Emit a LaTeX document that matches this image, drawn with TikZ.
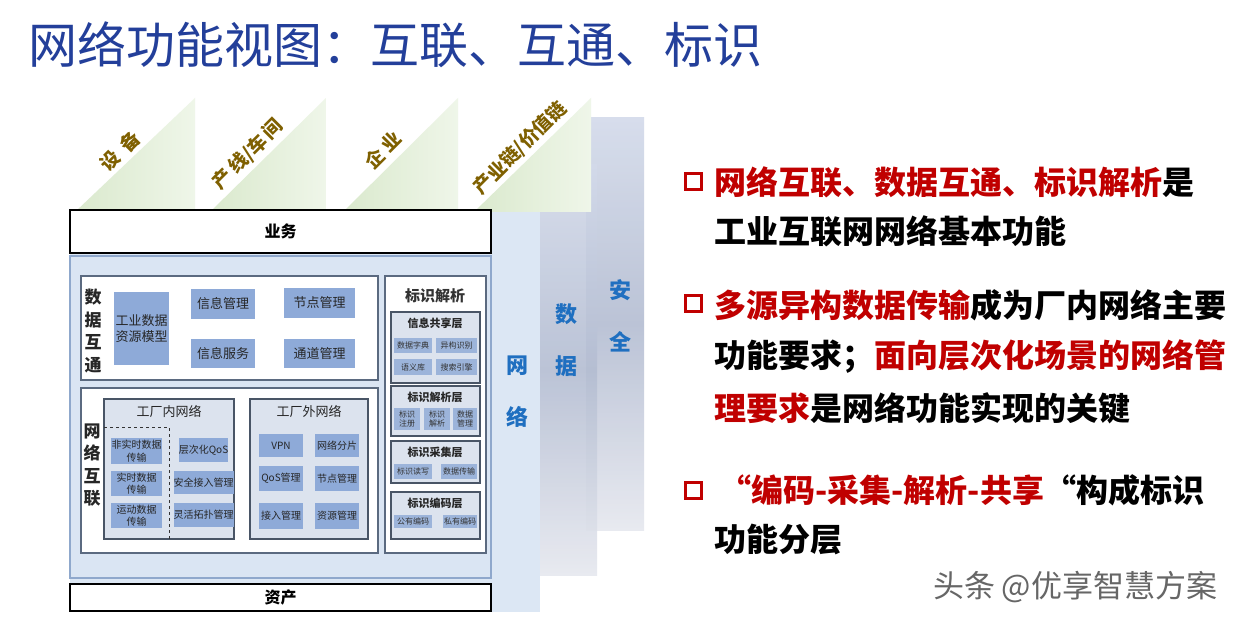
\documentclass[tikz,border=0pt]{standalone}
\usepackage{fontspec}
\setmainfont{Noto Sans CJK SC}
\definecolor{ttl}{HTML}{233F9A}
\definecolor{tri}{HTML}{DAE9CD}
\definecolor{tril}{HTML}{EFF6E9}
\definecolor{gold}{HTML}{7F6000}
\definecolor{netp}{HTML}{DCE7F4}
\definecolor{panel}{HTML}{DAE5F3}
\definecolor{panelb}{HTML}{8FA8CC}
\definecolor{bbox}{HTML}{8EAAD8}
\definecolor{sbox}{HTML}{9CB4DA}
\definecolor{layer}{HTML}{DCE3EE}
\definecolor{edge}{HTML}{5B6A80}
\definecolor{vblue}{HTML}{1F6FC0}
\definecolor{dred}{HTML}{C00000}
\definecolor{gA}{HTML}{D3DAEA}
\definecolor{gB}{HTML}{B4BDD2}
\definecolor{gC}{HTML}{E6E8EF}
\newcommand\fs[2]{\fontsize{#1}{#2}\selectfont}
% options, name, x1, y1, x2, y2, text
\newcommand\rbox[7][]{\node[#1, minimum width={(#5-#3)*1pt}, minimum height={(#6-#4)*1pt}] (#2) at ({(#3+#5)/2},{(#4+#6)/2}) {#7};}
\begin{document}
\begin{tikzpicture}[x=1pt,y=-1pt,
  every node/.style={inner sep=0pt, outer sep=0pt},
  blk/.style={draw=black, line width=1.3pt, fill=white, font=\fs{16}{19}\bfseries},
  grp/.style={draw=edge, line width=1.8pt, fill=white},
  bb/.style={fill=bbox, font=\fs{13}{16}, text=black!85, align=center},
  mb/.style={fill=bbox, font=\fs{10}{12.5}, text=black!85, align=center},
  lay/.style={draw=edge!80!black, line width=1.2pt, fill=layer},
  sb/.style={fill=sbox, font=\fs{8}{9.5}, text=black!80, align=center},
  vlab/.style={font=\fs{17}{22.5}\bfseries, align=center, text=black!85},
  side/.style={text=vblue, font=\fs{22}{52}\bfseries, align=center},
  tlab/.style={text=gold, font=\fs{19}{22}\bfseries, rotate=45},
  bul/.style={draw=dred, line width=3pt, minimum size=16pt},
  rt/.style={anchor=west, font=\fs{32}{38}\bfseries},
  sttl/.style={font=\fs{13}{15}, text=black!85},
  lttl/.style={font=\fs{11}{13}\bfseries, text=black!85}]
\useasboundingbox (0,0) rectangle (1245,620);
\fill[white] (0,0) rectangle (1245,620);

% title
\node[anchor=west, text=ttl, font=\fs{49}{55}] (title) at (28,45) {网络功能视图：互联、互通、标识};

% side panels
\shade[top color=gA, bottom color=gC, middle color=gB, opacity=0.9] (586,118) rectangle (644,530);
\shade[top color=gA, bottom color=gC, middle color=gB, opacity=0.9] (540,165) rectangle (597,575);
\fill[netp] (70,210) rectangle (540,612);
\node[side] (sec) at (620,316) {安\\全};
\node[side] (dat) at (566,340) {数\\据};
\node[side] (net) at (517,392) {网\\络};

% triangles
\shade[left color=tri, right color=tril] (75,212) -- (195,98) -- (195,212) -- cycle;
\shade[left color=tri, right color=tril] (210,212) -- (326,98) -- (326,212) -- cycle;
\shade[left color=tri, right color=tril] (343,212) -- (458,98) -- (458,212) -- cycle;
\shade[left color=tri, right color=tril] (474,212) -- (591,98) -- (591,212) -- cycle;
\node[tlab] (t1) at (120,151) {设\ \ 备};
\node[tlab] (t2) at (248,154) {产\,线/车\,间};
\node[tlab] (t3) at (383,150) {企\ 业};
\node[tlab] (t4) at (520,148) {产业链/价值链};

% business / asset
\rbox[blk]{biz}{70}{210}{491}{253}{业务}
\rbox[fill=panel, draw=panelb, line width=1.5pt]{pan}{70}{256}{491}{578}{}
\rbox[blk]{asset}{70}{584}{491}{611}{资产}

% data interchange
\rbox[grp]{dg}{81}{276}{378}{380}{}
\node[vlab] (dgl) at (93,331) {数\\据\\互\\通};
\rbox[bb]{model}{114}{292}{169}{365}{工业数据\\资源模型}
\rbox[bb]{info}{191}{289}{255}{319}{信息管理}
\rbox[bb]{nodem1}{284}{288}{355}{318}{节点管理}
\rbox[bb]{serv}{191}{339}{255}{368}{信息服务}
\rbox[bb]{chan}{284}{339}{355}{368}{通道管理}

% network interconnection
\rbox[grp]{ng}{81}{388}{378}{553}{}
\node[vlab] (ngl) at (92,465) {网\\络\\互\\联};
\rbox[lay]{inner}{104}{399}{234}{539}{}
\node[sttl] (innert) at (169,411) {工厂内网络};
\coordinate (d1) at (104,427);
\coordinate (d2) at (169,427);
\coordinate (d3) at (169,539);
\draw[dashed, line width=1pt, black!80] (d1) -- (d2) -- (d3);
\rbox[mb]{nrt}{111}{438}{162}{464}{非实时数据\\传输}
\rbox[mb]{rtm}{111}{471}{162}{496}{实时数据\\传输}
\rbox[mb]{mot}{111}{503}{162}{528}{运动数据\\传输}
\rbox[mb]{qos}{180}{438}{227}{462}{层次化QoS}
\rbox[mb]{secm}{180}{471}{227}{494}{安全接入管理}
\rbox[mb]{topo}{180}{503}{227}{527}{灵活拓扑管理}
\rbox[lay]{outer}{250}{399}{368}{539}{}
\node[sttl] (outert) at (309,411) {工厂外网络};
\rbox[mb]{vpn}{259}{434}{303}{457}{VPN}
\rbox[mb]{slice}{315}{434}{359}{457}{网络分片}
\rbox[mb]{qosm}{259}{466}{303}{491}{QoS管理}
\rbox[mb]{nodem2}{315}{466}{359}{491}{节点管理}
\rbox[mb]{acc}{259}{503}{303}{529}{接入管理}
\rbox[mb]{resm}{315}{503}{359}{529}{资源管理}

% identifier resolution
\rbox[grp]{ig}{385}{276}{486}{553}{}
\node[font=\fs{15}{17}\bfseries, text=black!80] (igt) at (435,296) {标识解析};
\rbox[lay]{share}{391}{312}{480}{383}{}
\node[lttl] (sharet) at (435,323) {信息共享层};
\rbox[sb]{dict}{394}{338}{432}{353}{数据字典}
\rbox[sb]{het}{436}{338}{477}{353}{异构识别}
\rbox[sb]{sem}{394}{359}{432}{375}{语义库}
\rbox[sb]{srch}{436}{359}{477}{375}{搜索引擎}
\rbox[lay]{parse}{391}{386}{480}{436}{}
\node[lttl] (parset) at (435,397) {标识解析层};
\rbox[sb]{reg}{394}{408}{420}{430}{标识\\注册}
\rbox[sb]{res2}{424}{408}{450}{430}{标识\\解析}
\rbox[sb]{dm}{453}{408}{477}{430}{数据\\管理}
\rbox[lay]{coll}{391}{441}{480}{483}{}
\node[lttl] (collt) at (435,452) {标识采集层};
\rbox[sb]{rw}{394}{464}{432}{479}{标识读写}
\rbox[sb]{tx}{441}{464}{477}{479}{数据传输}
\rbox[lay]{enc}{391}{492}{480}{539}{}
\node[lttl] (enct) at (435,503) {标识编码层};
\rbox[sb]{pub}{394}{515}{432}{528}{公有编码}
\rbox[sb]{priv}{443}{515}{477}{528}{私有编码}

% right text
\node[bul] (b1) at (693,182) {};
\node[bul] (b2) at (693,304) {};
\node[bul] (b3) at (693,490) {};
\node[rt] (l1) at (714,182) {\textcolor{dred}{网络互联、数据互通、标识解析}是};
\node[rt] (l2) at (714,231) {工业互联网网络基本功能};
\node[rt] (l3) at (714,305) {\textcolor{dred}{多源异构数据传输}成为厂内网络主要};
\node[rt] (l4) at (714,357) {功能要求；\textcolor{dred}{面向层次化场景的网络管}};
\node[rt] (l5) at (714,408) {\textcolor{dred}{理要求}是网络功能实现的关键};
\node[rt] (l6) at (714,490) {\textcolor{dred}{\,“编码-采集-解析-共享}“构成标识};
\node[rt] (l7) at (714,539) {功能分层};

% watermark
\node[anchor=west, font=\fs{31}{35}, text=black!60] (wm) at (933,587) {头条\ @优享智慧方案};
\end{tikzpicture}
\end{document}
